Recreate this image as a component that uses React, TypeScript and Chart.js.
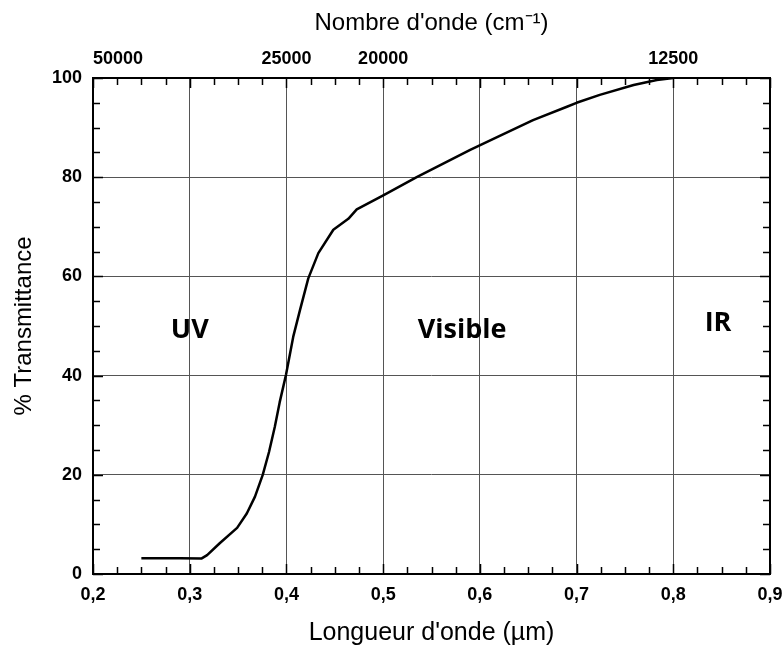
import React, { useEffect, useRef } from "react";
import { Chart, registerables } from "chart.js";

Chart.register(...registerables);

// Wavelength (µm) and % transmittance
const wavelength = [
  0.25, 0.29, 0.312, 0.318, 0.331, 0.349, 0.359, 0.3675, 0.3755, 0.382, 0.388,
  0.393, 0.3996, 0.407, 0.414, 0.4226, 0.433, 0.4485, 0.464, 0.4727, 0.5006,
  0.5347, 0.59, 0.62, 0.655, 0.69, 0.7, 0.724, 0.759, 0.783, 0.8,
];
const transmittance = [
  3.2, 3.2, 3.1, 3.8, 6.2, 9.3, 12.2, 15.6, 20, 24.6, 29.7, 34.6, 40.2, 47.8,
  53.2, 59.6, 64.7, 69.4, 71.6, 73.5, 76.4, 80, 85.5, 88.3, 91.5, 94.2, 95,
  96.6, 98.6, 99.6, 100,
];

// Top axis: wavenumber labels (cm-1)
const topWavenumbers = [50000, 25000, 20000, 12500];

// Region labels
const regionNames = ["UV", "Visible", "IR"];
const regionX = [0.3, 0.5816, 0.8463];
const regionY = [49.2, 49.2, 50.6];

const X_MIN = 0.2;
const X_MAX = 0.9;
const Y_MIN = 0;
const Y_MAX = 100;

const framePlugin = {
  id: "framePlugin",
  afterDatasetsDraw(chart: any) {
    const { ctx, chartArea } = chart;
    const xs = chart.scales.x;
    const ys = chart.scales.y;
    const { left, right, top, bottom } = chartArea;
    ctx.save();
    // region labels
    ctx.fillStyle = "#000";
    ctx.font = "bold 27px 'Open Sans'";
    ctx.textAlign = "center";
    ctx.textBaseline = "middle";
    regionNames.forEach((n, i) => {
      ctx.fillText(n, xs.getPixelForValue(regionX[i]), ys.getPixelForValue(regionY[i]));
    });
    // minor ticks
    ctx.strokeStyle = "#000";
    ctx.lineWidth = 1.5;
    ctx.beginPath();
    for (let k = 0; k <= 28; k++) {
      const v = X_MIN + k * 0.025;
      const px = Math.round(xs.getPixelForValue(v)) + 0.5;
      const len = k % 4 === 0 ? 10 : 7;
      ctx.moveTo(px, bottom);
      ctx.lineTo(px, bottom - len);
      ctx.moveTo(px, top);
      ctx.lineTo(px, top + len);
    }
    for (let k = 0; k <= 20; k++) {
      const v = Y_MIN + k * 5;
      const py = Math.round(ys.getPixelForValue(v)) + 0.5;
      const len = k % 4 === 0 ? 10 : 7;
      ctx.moveTo(left, py);
      ctx.lineTo(left + len, py);
      ctx.moveTo(right, py);
      ctx.lineTo(right - len, py);
    }
    ctx.stroke();
    // frame
    ctx.lineWidth = 2;
    ctx.strokeRect(left, top, right - left, bottom - top);
    ctx.restore();
  },
};

export default function App() {
  const ref = useRef<HTMLCanvasElement>(null);
  useEffect(() => {
    document.body.style.margin = "0";
    const points = wavelength.map((x, i) => ({ x, y: transmittance[i] }));
    const chart = new Chart(ref.current!, {
      type: "line",
      data: {
        datasets: [
          {
            data: points,
            borderColor: "#000",
            borderWidth: 2.5,
            pointRadius: 0,
            fill: false,
            tension: 0,
            borderJoinStyle: "round",
          },
        ],
      },
      options: {
        animation: false,
        responsive: false,
        maintainAspectRatio: false,
        layout: { padding: { left: 0, right: 13, top: 0, bottom: 0 } },
        plugins: { legend: { display: false }, tooltip: { enabled: false } },
        scales: {
          x: {
            type: "linear",
            position: "bottom",
            min: X_MIN,
            max: X_MAX,
            afterFit: (s: any) => {
              s.height = 74;
              s.paddingLeft = 0;
              s.paddingRight = 0;
            },
            ticks: {
              stepSize: 0.1,
              color: "#000",
              padding: 10,
              font: { family: "'Liberation Sans'", size: 18, weight: "bold" },
              callback: (v: any) => Number(v).toFixed(1).replace(".", ","),
            },
            grid: {
              color: (c: any) =>
                c.tick && (c.tick.value <= X_MIN + 1e-6 || c.tick.value >= X_MAX - 1e-6)
                  ? "rgba(0,0,0,0)"
                  : "#555",
              lineWidth: 1,
              drawTicks: false,
            },
            border: { display: false },
            title: {
              display: true,
              text: "Longueur d'onde (µm)",
              color: "#000",
              font: { family: "'Liberation Sans'", size: 25 },
              padding: { top: 0, bottom: 0 },
            },
          },
          x2: {
            type: "linear",
            position: "top",
            min: X_MIN,
            max: X_MAX,
            afterFit: (s: any) => {
              s.height = 78;
              s.paddingLeft = 0;
              s.paddingRight = 0;
            },
            afterBuildTicks: (s: any) => {
              s.ticks = [...topWavenumbers.map((w) => ({ value: 10000 / w })), { value: X_MAX }];
            },
            ticks: {
              align: "inner",
              color: "#000",
              padding: 8,
              autoSkip: false,
              maxRotation: 0,
              font: { family: "'Liberation Sans'", size: 18, weight: "bold" },
              callback: (v: any) => {
                const w = 10000 / Number(v);
                const found = topWavenumbers.find((t) => Math.abs(t - w) < 1);
                return found ? String(found) : "";
              },
            },
            grid: { display: false, drawTicks: false },
            border: { display: false },
            title: {
              display: true,
              text: "Nombre d'onde (cm⁻¹)",
              color: "#000",
              font: { family: "'Liberation Sans'", size: 24 },
              padding: { top: 9, bottom: 0 },
            },
          },
          y: {
            type: "linear",
            min: Y_MIN,
            max: Y_MAX,
            afterFit: (s: any) => {
              s.width = 93;
            },
            ticks: {
              stepSize: 20,
              color: "#000",
              padding: 11,
              font: { family: "'Liberation Sans'", size: 18, weight: "bold" },
            },
            grid: {
              color: (c: any) =>
                c.tick && (c.tick.value <= Y_MIN || c.tick.value >= Y_MAX) ? "rgba(0,0,0,0)" : "#555",
              lineWidth: 1,
              drawTicks: false,
            },
            border: { display: false },
            title: {
              display: true,
              text: "% Transmittance",
              color: "#000",
              font: { family: "'Liberation Sans'", size: 24 },
              padding: { top: 10, bottom: 0 },
            },
          },
        },
      },
      plugins: [framePlugin],
    } as any);
    return () => chart.destroy();
  }, []);
  return (
    <div style={{ position: "absolute", left: 0, top: 0, width: 783, height: 648, background: "#fff" }}>
      <canvas ref={ref} width={783} height={648} style={{ width: 783, height: 648 }} />
    </div>
  );
}
